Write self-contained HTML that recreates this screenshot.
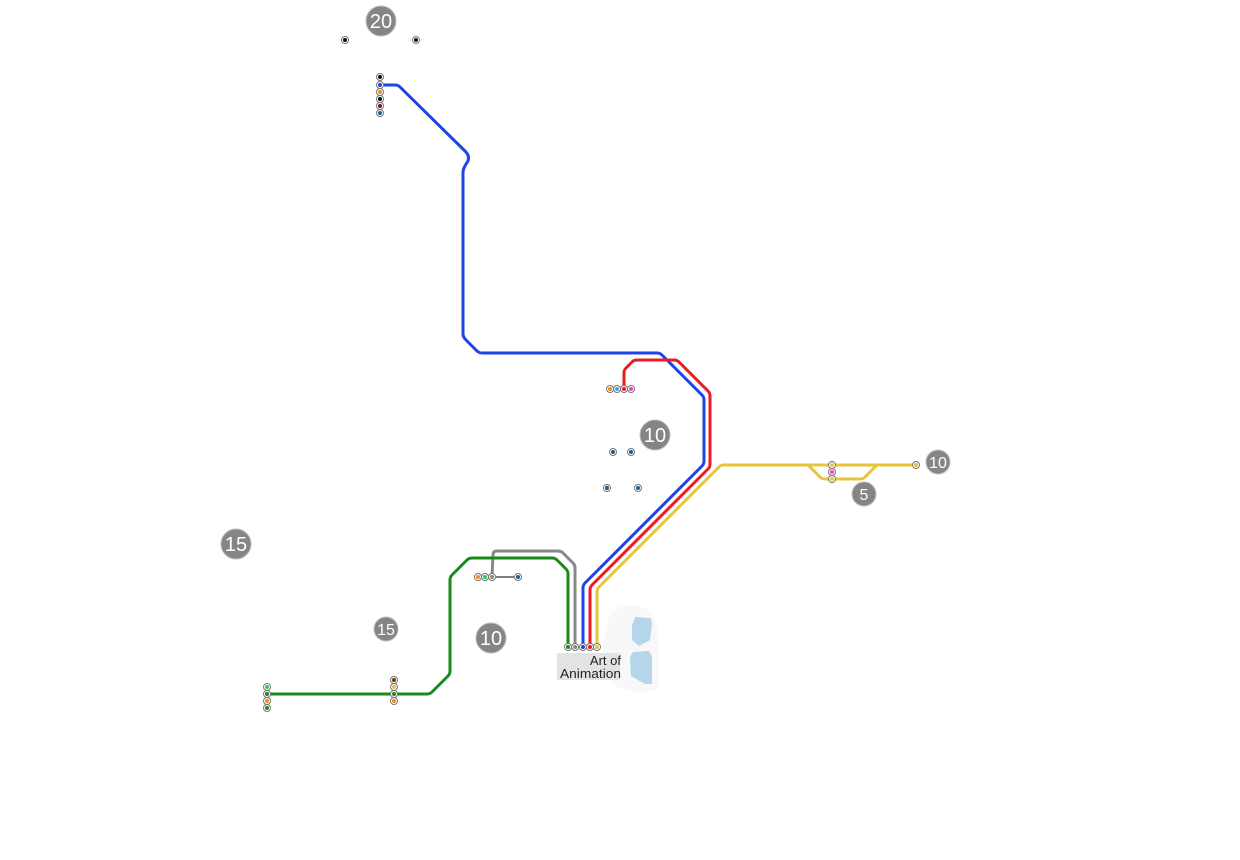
<!DOCTYPE html>
<html><head><meta charset="utf-8"><style>
html,body{margin:0;padding:0;background:#fff;}
svg{display:block;}
text{font-family:"Liberation Sans","DejaVu Sans",sans-serif;}
</style></head><body>
<svg width="1240" height="860" viewBox="0 0 1240 860" xmlns="http://www.w3.org/2000/svg">
<rect width="1240" height="860" fill="#fff"/>
<!-- faint background blob -->
<path d="M612 612 Q625 602 640 606 Q658 612 658 640 L658 690 Q640 694 620 688 Q606 680 604 660 Q602 630 612 612 Z" fill="#f8f8f8"/>
<!-- pools -->
<path d="M635 617 L651 618 L652 624 L650 640 L639 646 L632 640 L632 626 Z" fill="#b5d5ea"/>
<path d="M633 652 L649 651 L652 656 L652 684 L645 684 L631 676 L630 657 Z" fill="#b5d5ea"/>
<!-- label -->
<rect x="557" y="653" width="63" height="27" fill="#e3e3e3"/>
<text x="621" y="665" font-size="13" text-anchor="end" fill="#222">Art of</text>
<text x="621" y="678" font-size="13" text-anchor="end" fill="#222" textLength="61" lengthAdjust="spacingAndGlyphs">Animation</text>

<g fill="none" stroke-width="3" stroke-linejoin="round" stroke-linecap="round">
<!-- blue -->
<path d="M380 85 L395 85 Q398 85 400 87 L466 152 Q471 158 466 164 L465 166 Q463 169 463 173 L463 334 Q463 337 466 340 L477 351 Q479 353 482 353 L657 353 Q660 353 662 355 L702 395 Q704 397 704 400 L704 461 Q704 464 702 466 L585 583 Q583 585 583 588 L583 647" stroke="#1f44e6"/>
<!-- red -->
<path d="M624 389 L624 373 Q624 370 626 368 L633 361 Q635 360 638 360 L674 360 Q677 360 679 362 L708 391 Q710 393 710 396 L710 464 Q710 467 708 469 L592 585 Q590 587 590 590 L590 647" stroke="#ea1b23"/>
<!-- yellow -->
<path d="M597 647 L597 592 Q597 589 599 587 L719 467 Q721 465 724 465 L916 465" stroke="#e6c53a"/>
<path d="M808 465 L820 477 Q822 479 825 479 L860 479 Q863 479 865 477 L877 465" stroke="#e6c53a"/>
<!-- gray -->
<path d="M575 647 L575 568 Q575 565 573 563 L562 552 Q560 551 557 551 L497 551 Q493 551 493 555 L492 577" stroke="#888"/>
<!-- green -->
<path d="M568 647 L568 574 Q568 571 566 569 L557 560 Q555 558 552 558 L472 558 Q469 558 467 560 L452 575 Q450 577 450 580 L450 671 Q450 674 448 676 L432 692 Q430 694 427 694 L267 694" stroke="#1b8a1b"/>
</g>

<line x1="496" y1="577" x2="514" y2="577" stroke="#555" stroke-width="1.5"/>
<!-- station outer circles -->
<g stroke="#777" stroke-width="1" fill="#fff">
<circle cx="345" cy="40" r="3.5"/><circle cx="416" cy="40" r="3.5"/>
<circle cx="380" cy="77" r="3.5"/><circle cx="380" cy="85" r="3.5"/><circle cx="380" cy="92" r="3.5"/>
<circle cx="380" cy="99" r="3.5"/><circle cx="380" cy="106" r="3.5"/><circle cx="380" cy="113" r="3.5"/>
<circle cx="568" cy="647" r="3.5"/><circle cx="575" cy="647" r="3.5"/><circle cx="583" cy="647" r="3.5"/>
<circle cx="590" cy="647" r="3.5"/><circle cx="597" cy="647" r="3.5"/>
<circle cx="610" cy="389" r="3.5"/><circle cx="617" cy="389" r="3.5"/><circle cx="624" cy="389" r="3.5"/><circle cx="631" cy="389" r="3.5"/>
<circle cx="478" cy="577" r="3.5"/><circle cx="485" cy="577" r="3.5"/><circle cx="492" cy="577" r="3.5"/><circle cx="518" cy="577" r="3.5"/>
<circle cx="613" cy="452" r="3.5"/><circle cx="631" cy="452" r="3.5"/>
<circle cx="607" cy="488" r="3.5"/><circle cx="638" cy="488" r="3.5"/>
<circle cx="832" cy="465" r="3.5"/><circle cx="832" cy="472" r="3.5"/><circle cx="832" cy="479" r="3.5"/>
<circle cx="916" cy="465" r="3.5"/>
<circle cx="267" cy="687" r="3.5"/><circle cx="267" cy="694" r="3.5"/><circle cx="267" cy="701" r="3.5"/><circle cx="267" cy="708" r="3.5"/>
<circle cx="394" cy="680" r="3.5"/><circle cx="394" cy="687" r="3.5"/><circle cx="394" cy="694" r="3.5"/><circle cx="394" cy="701" r="3.5"/>
</g>
<!-- inner dots -->
<g>
<circle cx="345" cy="40" r="2" fill="#111"/><circle cx="416" cy="40" r="2" fill="#111"/>
<circle cx="380" cy="77" r="2" fill="#111"/>
<circle cx="380" cy="85" r="2" fill="#1f44e6"/>
<circle cx="380" cy="92" r="2" fill="#f58b1f"/>
<circle cx="380" cy="99" r="2" fill="#111"/>
<circle cx="380" cy="106" r="2" fill="#7a1020"/>
<circle cx="380" cy="113" r="2" fill="#1b5e8a"/>

<circle cx="568" cy="647" r="2" fill="#1b8a1b"/>
<circle cx="575" cy="647" r="2" fill="#888"/>
<circle cx="583" cy="647" r="2" fill="#1f44e6"/>
<circle cx="590" cy="647" r="2" fill="#ea1b23"/>
<circle cx="597" cy="647" r="2" fill="#e6c53a"/>

<circle cx="610" cy="389" r="2" fill="#f58b1f"/>
<circle cx="617" cy="389" r="2" fill="#4aa3df"/>
<circle cx="624" cy="389" r="2" fill="#ea1b23"/>
<circle cx="631" cy="389" r="2" fill="#ef3fd0"/>

<circle cx="478" cy="577" r="2" fill="#f58b1f"/>
<circle cx="485" cy="577" r="2" fill="#2ecc55"/>
<circle cx="492" cy="577" r="2" fill="#888"/>
<circle cx="518" cy="577" r="2" fill="#1b5e8a"/>

<circle cx="613" cy="452" r="2" fill="#1b5e8a"/><circle cx="631" cy="452" r="2" fill="#1b5e8a"/>
<circle cx="607" cy="488" r="2" fill="#1b5e8a"/><circle cx="638" cy="488" r="2" fill="#1b5e8a"/>

<circle cx="832" cy="465" r="2" fill="#e6c53a"/>
<circle cx="832" cy="472" r="2" fill="#ef3fd0"/>
<circle cx="832" cy="479" r="2" fill="#e6c53a"/>
<circle cx="916" cy="465" r="2" fill="#e6c53a"/>

<circle cx="267" cy="687" r="2" fill="#2ecc55"/>
<circle cx="267" cy="694" r="2" fill="#1b8a1b"/>
<circle cx="267" cy="701" r="2" fill="#f58b1f"/>
<circle cx="267" cy="708" r="2" fill="#1b8a1b"/>

<circle cx="394" cy="680" r="2" fill="#6b3a10"/>
<circle cx="394" cy="687" r="2" fill="#e6c53a"/>
<circle cx="394" cy="694" r="2" fill="#1b8a1b"/>
<circle cx="394" cy="701" r="2" fill="#f58b1f"/>
</g>

<!-- number badges -->
<g fill="#858585" stroke="#bdbdbd" stroke-width="1">
<circle cx="381" cy="21" r="15"/>
<circle cx="655" cy="435" r="15"/>
<circle cx="938" cy="462" r="12"/>
<circle cx="864" cy="494" r="12"/>
<circle cx="236" cy="544" r="15"/>
<circle cx="386" cy="629" r="12"/>
<circle cx="491" cy="638" r="15"/>
</g>
<g fill="#fff" text-anchor="middle">
<text x="381" y="28" font-size="20">20</text>
<text x="655" y="442" font-size="20">10</text>
<text x="938" y="468" font-size="16">10</text>
<text x="864" y="500" font-size="16">5</text>
<text x="236" y="551" font-size="20">15</text>
<text x="386" y="635" font-size="16">15</text>
<text x="491" y="645" font-size="20">10</text>
</g>
</svg>
</body></html>
